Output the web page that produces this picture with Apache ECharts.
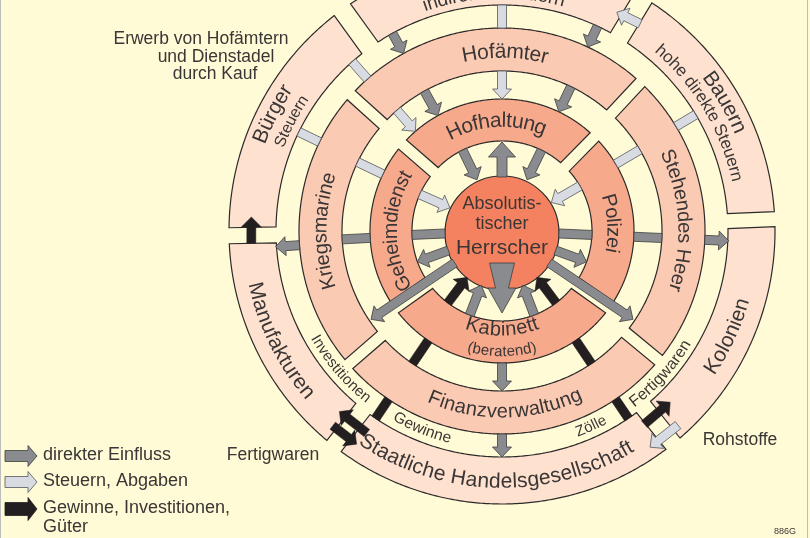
<!DOCTYPE html>
<html>
<head>
<meta charset="utf-8">
<script src="https://cdn.jsdelivr.net/npm/echarts/dist/echarts.min.js"></script>
<style>
html, body { margin: 0; padding: 0; background: #fffbd6; }
#chart { width: 810px; height: 538px; }
</style>
</head>
<body>
<div id="chart"></div>
<script>
// ring radii (polar radius axis units)
const ringInner = [0, 90, 160, 226];
const ringOuter = [57, 132, 203, 273];

// ring segments, angles in degrees counter-clockwise from east
const segNames = ['Polizei', 'Hofhaltung', 'Geheimdienst', 'Kabinett',
  'Stehendes Heer', 'Hofämter', 'Kriegsmarine', 'Finanzverwaltung',
  'Bauern', 'indirekte Steuern', 'Bürger', 'Manufakturen', 'Staatliche Handelsgesellschaft', 'Kolonien'];
const segRing = [1, 1, 1, 1, 2, 2, 2, 2, 3, 3, 3, 3, 3, 3];
const segStart = [-35.5, 45.5, 139, 215.5, -39.5, 47, 138, 221, 2.5, 58.8, 125.8, 181, 232, -51.2];
const segEnd = [45.5, 139, 215.5, 324.5, 47, 138, 221, 320.5, 58.8, 125.8, 181, 232, 308.8, 2.5];

// links: [radius from, angle from, radius to, angle to, head]
const darkLinks = [
  [90, 116, 57, 116, 1], [90, 64, 57, 64, 1],
  [57, 357.5, 90, 357.5, 0], [132, 357.5, 160, 357.5, 0], [203, 357.5, 227, 357.5, 1],
  [57, 182.5, 90, 182.5, 0], [132, 183, 160, 183, 0], [203, 184, 227, 184, 1],
  [57, 340, 90, 340, 1], [57, 200, 90, 200, 1],
  [57, 214, 158, 214, 1], [57, 326, 158, 326, 1],
  [90, 249, 58, 249, 1], [90, 291, 58, 291, 1],
  [132, 270, 160, 270, 1], [203, 270, 226, 270, 1],
  [226, 119, 203, 119, 1], [226, 65, 203, 65, 1],
  [160, 119, 132, 119, 1], [160, 64.5, 132, 64.5, 1]
];
const lightLinks = [
  [226, 90, 203, 90, 0], [160, 90, 132, 90, 1],
  [226, 131.5, 203, 131.5, 0], [160, 131, 132, 131, 1],
  [226, 154, 203, 154, 0], [160, 154.5, 132, 154.5, 0], [90, 156, 57, 156, 1],
  [226, 31, 203, 31, 0], [160, 30.5, 132, 30.5, 0], [90, 30, 57, 30, 1],
  [249, 56.3, 247, 62.3, 1],
  [262, 312.2, 262, 304.4, 1]
];
const blackLinks = [
  [90, 233, 58, 233, 1], [90, 307, 58, 307, 1],
  [132, 236, 160, 236, 0], [132, 304, 160, 304, 0],
  [203, 236, 226, 236, 0], [203, 304, 226, 304, 0],
  [243, 236.2, 243, 228, 1], [258, 229, 258, 235.7, 1],
  [251, 182.8, 251, 176.8, 1],
  [240, 306.4, 240, 314.5, 1]
];
const wideLinks = [[54, 90, 89, 90, 1]];
const wedgeLinks = [[32, 270, 82, 270, 1]];

// curved labels
const labelText = ['Hofhaltung', 'Polizei', 'Kabinett', '(beratend)', 'Geheimdienst',
  'Hofämter', 'Stehendes Heer', 'Finanzverwaltung', 'Kriegsmarine',
  'indirekte Steuern', 'Bauern', 'hohe direkte Steuern', 'Kolonien',
  'Staatliche Handelsgesellschaft', 'Manufakturen', 'Bürger', 'Steuern',
  'Investitionen', 'Gewinne', 'Zölle', 'Fertigwaren'];
const labelR = [110, 111, 99, 121, 111, 179, 182, 181, 181, 238, 258, 240, 251, 251, 253, 258, 238, 215, 214, 215, 216];
const labelAngle = [93, 4, 270, 270, 180, 89, 3.5, 271, 180, 92, 30, 30.8, -25, 268.5, 206.3, 153, 152.5, 220.5, 248, 294.5, 318];

const centerLines = ['Absolutis-', 'tischer', 'Herrscher'];
const noteLines = ['Erwerb von Hofämtern', 'und Dienstadel', 'durch Kauf'];
const sideNotes = ['Fertigwaren', 'Rohstoffe'];
const legendKinds = ['dark', 'light', 'black'];
const legendLabels = ['direkter Einfluss', 'Steuern, Abgaben', 'Gewinne, Investitionen,\nGüter'];

// ---- layout and style ----
const FONT = '"Liberation Sans", Arial, sans-serif';
const TEXT = '#3a3636';
const OUTLINE = '#2c2a2a';
const ringFill = ['#f4815f', '#f7a98c', '#fbcab3', '#fee1cf'];
const segGapStart = [13, 12, 12, 13, 12, 12, 12, 12, 15, 20, 20, 16, 18, 18];
const segGapEnd = [12, 12, 13, 13, 12, 12, 12, 12, 20, 20, 16, 18, 18, 15];
const labelSize = [21, 20, 20, 15, 20, 21, 20, 20, 20, 19, 21, 17, 21, 21, 21, 21, 16, 15, 15.5, 15, 16];
const centerDy = [-27, -7, 17];
const centerSize = [18, 18, 21];
const noteX = [201, 216, 215];
const noteY = [39, 57, 74];
const sideX = [273, 740];
const sideY = [455, 440];
const legendY = [456, 482, 509];

const linkStyle = {
  dark: { fill: '#898b8f', stroke: '#3d3d3d', lineWidth: 0.8, sw: 9, hw: 19, hl: 10 },
  light: { fill: '#d8dbe1', stroke: '#55585c', lineWidth: 0.8, sw: 9, hw: 19, hl: 10 },
  black: { fill: '#231f20', stroke: '#231f20', lineWidth: 0.5, sw: 9, hw: 20, hl: 10 },
  wide: { fill: '#898b8f', stroke: '#3d3d3d', lineWidth: 0.8, sw: 10, hw: 27, hl: 15 },
  wedge: { fill: '#898b8f', stroke: '#3d3d3d', lineWidth: 0.8, sw: 13, hw: 28, hl: 25, sw0: 25 }
};

const allLinks = [].concat(
  darkLinks.map(l => ['dark'].concat(l)),
  lightLinks.map(l => ['light'].concat(l)),
  blackLinks.map(l => ['black'].concat(l)),
  wideLinks.map(l => ['wide'].concat(l)),
  wedgeLinks.map(l => ['wedge'].concat(l))
);

function norm(a) { return ((a % 360) + 360) % 360; }
function pt(api, r, a) { return api.coord([r, norm(a)]); }
function deg(x) { return x * 180 / Math.PI; }

function arrowPoints(p0, p1, st, head) {
  const dx = p1[0] - p0[0], dy = p1[1] - p0[1];
  const len = Math.hypot(dx, dy);
  const ux = dx / len, uy = dy / len, nx = -uy, ny = ux;
  const off = (p, s) => [p[0] + nx * s, p[1] + ny * s];
  const sw0 = st.sw0 || st.sw;
  if (!head) return [off(p0, st.sw / 2), off(p1, st.sw / 2), off(p1, -st.sw / 2), off(p0, -st.sw / 2)];
  const hl = Math.min(st.hl, len * 0.7);
  const pb = [p1[0] - ux * hl, p1[1] - uy * hl];
  return [off(p0, sw0 / 2), off(pb, st.sw / 2), off(pb, st.hw / 2), p1,
    off(pb, -st.hw / 2), off(pb, -st.sw / 2), off(p0, -sw0 / 2)];
}

function renderSegment(params, api) {
  const i = api.value(2);
  const ring = segRing[i];
  const ri = ringInner[ring], ro = ringOuter[ring];
  const a0 = segStart[i], a1 = segEnd[i];
  const off = (g, r) => deg(Math.asin(g / 2 / r));
  const pts = [];
  const s0 = a0 + off(segGapStart[i], ro), e0 = a1 - off(segGapEnd[i], ro);
  const n0 = Math.ceil(Math.abs(e0 - s0) * 2);
  for (let k = 0; k <= n0; k++) pts.push(pt(api, ro, s0 + (e0 - s0) * k / n0));
  const s1 = a1 - off(segGapEnd[i], ri), e1 = a0 + off(segGapStart[i], ri);
  const n1 = Math.ceil(Math.abs(e1 - s1) * 2);
  for (let k = 0; k <= n1; k++) pts.push(pt(api, ri, s1 + (e1 - s1) * k / n1));
  return {
    type: 'polygon', shape: { points: pts },
    style: { fill: ringFill[ring], stroke: OUTLINE, lineWidth: 1.2 }
  };
}

function txt(x, y, text, size, extra) {
  return Object.assign({
    type: 'text', x: x, y: y,
    style: {
      text: text, font: size + 'px ' + FONT, fill: TEXT,
      align: 'center', verticalAlign: 'middle', textAlign: 'center', textVerticalAlign: 'middle'
    }
  }, extra || {});
}

function renderCenter(params, api) {
  const c = pt(api, 0, 0), e = pt(api, ringOuter[0], 0);
  const r = Math.hypot(e[0] - c[0], e[1] - c[1]);
  const children = [{
    type: 'circle', shape: { cx: c[0], cy: c[1] + 2, r: r },
    style: { fill: ringFill[0], stroke: OUTLINE, lineWidth: 1.2 }
  }];
  centerLines.forEach((t, k) => children.push(txt(c[0], c[1] + centerDy[k], t, centerSize[k])));
  return { type: 'group', children: children };
}

function renderLink(params, api) {
  const l = allLinks[api.value(2)];
  const st = linkStyle[l[0]];
  const p0 = pt(api, l[1], l[2]), p1 = pt(api, l[3], l[4]);
  return {
    type: 'polygon', shape: { points: arrowPoints(p0, p1, st, l[5]) },
    style: { fill: st.fill, stroke: st.stroke, lineWidth: st.lineWidth, lineJoin: 'miter' }
  };
}

const measureCtx = document.createElement('canvas').getContext('2d');
function renderLabel(params, api) {
  const i = api.value(2);
  const text = labelText[i], size = labelSize[i], r = labelR[i], ac = labelAngle[i];
  const font = size + 'px ' + FONT;
  measureCtx.font = font;
  const chars = Array.from(text);
  const widths = chars.map(c => measureCtx.measureText(c).width);
  const total = widths.reduce((a, b) => a + b, 0);
  const inward = Math.sin(ac * Math.PI / 180) < -0.2;
  const dir = inward ? 1 : -1;
  let acc = -total / 2;
  const children = chars.map((c, k) => {
    const mid = acc + widths[k] / 2;
    acc += widths[k];
    const a = ac + dir * deg(mid / r);
    const p = pt(api, r, a);
    const rot = (inward ? a + 90 : a - 90) * Math.PI / 180;
    return txt(p[0], p[1], c, size, { rotation: rot });
  });
  return { type: 'group', children: children };
}

const graphics = [];
graphics.push({ type: 'line', shape: { x1: 0.5, y1: 0, x2: 0.5, y2: 538 }, style: { stroke: '#bdbdbd', lineWidth: 1 } });
graphics.push({ type: 'line', shape: { x1: 807.5, y1: 0, x2: 807.5, y2: 538 }, style: { stroke: '#bdbdbd', lineWidth: 1 } });
noteLines.forEach((t, k) => graphics.push(txt(noteX[k], noteY[k], t, 17.5)));
sideNotes.forEach((t, k) => graphics.push(txt(sideX[k], sideY[k], t, 17.5)));
graphics.push(txt(785, 532, '886G', 9));
legendKinds.forEach((kind, k) => {
  const st = linkStyle[kind];
  const big = kind === 'black' ? 2 : 0;
  graphics.push({
    type: 'polygon',
    shape: { points: arrowPoints([5, legendY[k]], [37, legendY[k]], { sw: 11 + big, hw: 21 + big, hl: 9 }, 1) },
    style: { fill: st.fill, stroke: st.stroke, lineWidth: 0.8 }
  });
  graphics.push({
    type: 'text', x: 43, y: legendY[k] - 10,
    style: {
      text: legendLabels[k], font: '18px ' + FONT, fill: TEXT, lineHeight: 19,
      align: 'left', verticalAlign: 'top', textAlign: 'left', textVerticalAlign: 'top'
    }
  });
});

const chart = echarts.init(document.getElementById('chart'));
chart.setOption({
  animation: false,
  backgroundColor: '#fffbd6',
  polar: { center: [502, 231], radius: 273 },
  radiusAxis: { type: 'value', min: 0, max: 273, show: false },
  angleAxis: { type: 'value', min: 0, max: 360, startAngle: 0, clockwise: false, show: false },
  graphic: graphics,
  series: [
    {
      type: 'custom', coordinateSystem: 'polar', z: 2, silent: true,
      data: segNames.map((n, i) => [ringOuter[segRing[i]], norm((segStart[i] + segEnd[i]) / 2), i]),
      renderItem: renderSegment
    },
    {
      type: 'custom', coordinateSystem: 'polar', z: 2, silent: true,
      data: [[ringOuter[0], 0, 0]],
      renderItem: renderCenter
    },
    {
      type: 'custom', coordinateSystem: 'polar', z: 3, silent: true,
      data: allLinks.map((l, i) => [l[1], norm(l[2]), i]),
      renderItem: renderLink
    },
    {
      type: 'custom', coordinateSystem: 'polar', z: 4, silent: true,
      data: labelText.map((t, i) => [labelR[i], norm(labelAngle[i]), i]),
      renderItem: renderLabel
    }
  ]
});
</script>
</body>
</html>
